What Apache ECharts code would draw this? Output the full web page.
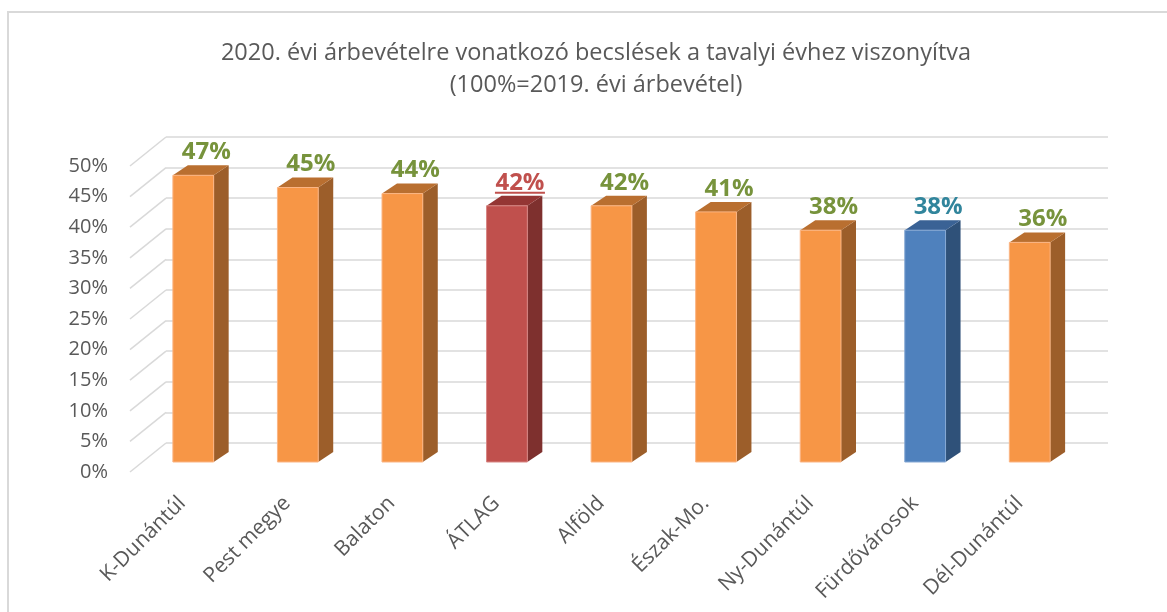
<!DOCTYPE html>
<html>
<head>
<meta charset="utf-8">
<title>2020. évi árbevétel becslések</title>
<script src="https://cdn.jsdelivr.net/npm/echarts@6/dist/echarts.min.js"></script>
<style>
  html, body { margin: 0; padding: 0; background: #fff; }
  #chart { width: 1167px; height: 612px; }
</style>
</head>
<body>
<div id="chart"></div>
<script>
const categories = ['K-Dunántúl', 'Pest megye', 'Balaton', 'ÁTLAG', 'Alföld', 'Észak-Mo.', 'Ny-Dunántúl', 'Fürdővárosok', 'Dél-Dunántúl']
const values = [47, 45, 44, 42, 42, 41, 38, 38, 36]
const yTicks = [0, 5, 10, 15, 20, 25, 30, 35, 40, 45, 50]

const FONT = '"Open Sans", "DejaVu Sans", sans-serif'
const TEXT_COLOR = '#595959'
const GRID_COLOR = '#d9d9d9'

// 3D look: depth of the bars and of the back wall (px)
const BAR_DX = 15
const BAR_DY = 10
const WALL_DX = 36
const WALL_DY = 29

const barColors = {
  default: { front: '#F79646', side: '#9C5E2A', top: '#B96F30', edge: '#FBB584', label: '#77933C' },
  'ÁTLAG': { front: '#C0504D', side: '#7E302E', top: '#943634', edge: '#D88684', label: '#C0504D', underline: true },
  'Fürdővárosok': { front: '#4F81BD', side: '#2F5179', top: '#3A6295', edge: '#86A8D4', label: '#31859C' }
}

const chart = echarts.init(document.getElementById('chart'))

// back-wall gridlines -> diagonal to the front axis
const renderWallEdge = (params, api) => {
  const y = api.coord([0, api.value(1)])[1]
  const x = params.coordSys.x
  return {
    type: 'line',
    shape: { x1: x, y1: y, x2: x - WALL_DX, y2: y + WALL_DY },
    style: { stroke: GRID_COLOR, lineWidth: 1.5 }
  }
}

const renderBar = (params, api) => {
  const idx = api.value(0)
  const val = api.value(1)
  const base = api.coord([idx, 0])
  const top = api.coord([idx, val])
  const w = api.size([1, 0])[0] * 0.39
  const x0 = base[0] - w / 2
  const x1 = base[0] + w / 2
  const yb = base[1]
  const yt = top[1]
  const c = barColors[categories[idx]] || barColors.default
  const lx = base[0] + 13

  const children = [
    {
      type: 'polygon',
      shape: { points: [[x1, yt], [x1 + BAR_DX, yt - BAR_DY], [x1 + BAR_DX, yb - BAR_DY], [x1, yb]] },
      style: { fill: c.side }
    },
    {
      type: 'polygon',
      shape: { points: [[x0, yt], [x0 + BAR_DX, yt - BAR_DY], [x1 + BAR_DX, yt - BAR_DY], [x1, yt]] },
      style: { fill: c.top }
    },
    {
      type: 'rect',
      shape: { x: x0, y: yt, width: w, height: yb - yt },
      style: { fill: c.front, stroke: c.edge, lineWidth: 1 }
    },
    {
      type: 'text',
      x: lx,
      y: yt - 23,
      style: {
        text: val + '%',
        fill: c.label,
        fontFamily: FONT,
        fontSize: 24,
        fontWeight: 'bold',
        align: 'center',
        verticalAlign: 'middle'
      }
    }
  ]
  if (c.underline) {
    children.push({
      type: 'line',
      shape: { x1: lx - 25, y1: yt - 13, x2: lx + 25, y2: yt - 13 },
      style: { stroke: c.label, lineWidth: 2 }
    })
  }
  return { type: 'group', children }
}

const option = {
  animation: false,
  backgroundColor: '#fff',
  title: {
    text: '2020. évi árbevételre vonatkozó becslések a tavalyi évhez viszonyítva\n(100%=2019. évi árbevétel)',
    left: 591,
    textAlign: 'center',
    top: 32,
    padding: 5,
    textStyle: {
      fontFamily: FONT,
      fontSize: 23.5,
      fontWeight: 'normal',
      color: TEXT_COLOR,
      lineHeight: 32
    }
  },
  graphic: [{
    type: 'rect',
    silent: true,
    shape: { x: 8, y: 12, width: 1200, height: 700 },
    style: { fill: 'none', stroke: GRID_COLOR, lineWidth: 2 }
  }],
  grid: [
    // back wall
    { left: 166, right: 59, top: 137, bottom: 169 },
    // front edge: axis labels
    { left: 130, right: 95, top: 166, bottom: 140 },
    // bar front plane
    { left: 141, right: 85, top: 157, bottom: 150 }
  ],
  xAxis: [
    { gridIndex: 0, type: 'category', data: categories, show: false },
    {
      gridIndex: 1,
      type: 'category',
      data: categories,
      axisLine: { show: false },
      axisTick: { show: false },
      axisLabel: {
        rotate: 45,
        margin: 28,
        interval: 0,
        fontFamily: FONT,
        fontSize: 21,
        color: TEXT_COLOR
      }
    },
    { gridIndex: 2, type: 'category', data: categories, show: false }
  ],
  yAxis: [
    {
      gridIndex: 0,
      type: 'value',
      min: 0,
      max: 50,
      interval: 5,
      axisLabel: { show: false },
      axisLine: { show: false },
      axisTick: { show: false },
      splitLine: { lineStyle: { color: GRID_COLOR, width: 1.5 } }
    },
    {
      gridIndex: 1,
      type: 'value',
      min: 0,
      max: 50,
      interval: 5,
      axisLine: { show: false },
      axisTick: { show: false },
      splitLine: { show: false },
      axisLabel: {
        margin: 22,
        formatter: '{value}%',
        fontFamily: FONT,
        fontSize: 20,
        color: TEXT_COLOR
      }
    },
    { gridIndex: 2, type: 'value', min: 0, max: 50, show: false, splitLine: { show: false } }
  ],
  series: [
    {
      type: 'custom',
      xAxisIndex: 0,
      yAxisIndex: 0,
      silent: true,
      renderItem: renderWallEdge,
      data: yTicks.map(v => [0, v])
    },
    {
      type: 'custom',
      xAxisIndex: 2,
      yAxisIndex: 2,
      z: 3,
      renderItem: renderBar,
      data: categories.map((c, i) => [i, values[i]])
    }
  ]
}

chart.setOption(option)
</script>
</body>
</html>
